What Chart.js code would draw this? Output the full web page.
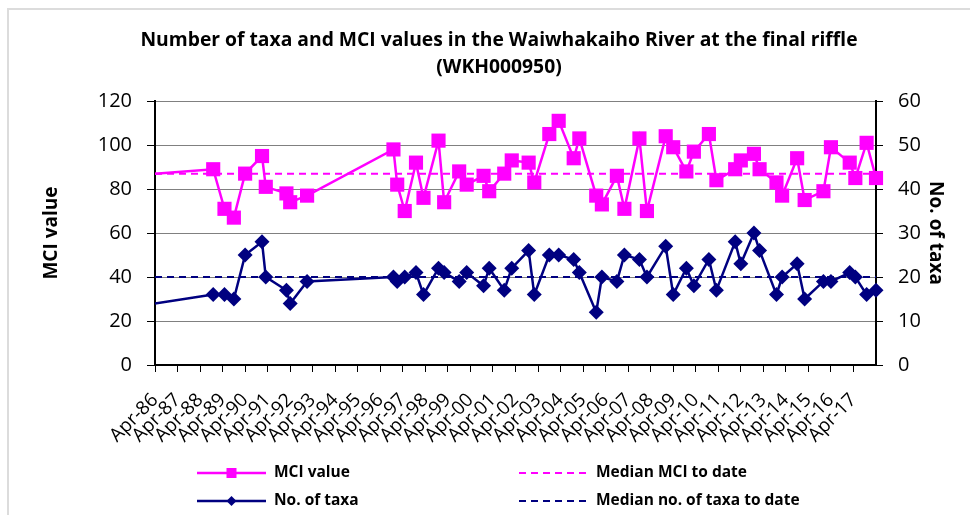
<!DOCTYPE html>
<html>
<head>
<meta charset="utf-8">
<title>Waiwhakaiho River - taxa and MCI</title>
<script src="https://cdn.jsdelivr.net/npm/chart.js@4.4.1/dist/chart.umd.min.js"></script>
<style>
  html, body { margin: 0; padding: 0; background: #fff; }
  #wrap { position: relative; width: 970px; height: 515px; overflow: hidden; }
  #frame { position: absolute; left: 7px; top: 8px; right: -10px; bottom: -10px;
           border-left: 2px solid #dcdcdc; border-top: 2px solid #dcdcdc; }
  canvas { position: absolute; left: 0; top: 0; }
</style>
</head>
<body>
<div id="wrap">
  <div id="frame"></div>
  <canvas id="chart" width="970" height="515"></canvas>
</div>
<script>
// sampling dates (year-month); the first one lies before the axis start and only feeds the lead-in line
const sampleDates = [
  '1985-01', '1988-11', '1989-05', '1989-10', '1990-04', '1991-01', '1991-03', '1992-02', '1992-04', '1993-01',
  '1996-11', '1997-01', '1997-05', '1997-11', '1998-03', '1998-11', '1999-02', '1999-10', '2000-02', '2000-11',
  '2001-02', '2001-10', '2002-02', '2002-11', '2003-02', '2003-10', '2004-03', '2004-11', '2005-02', '2005-11',
  '2006-02', '2006-10', '2007-02', '2007-10', '2008-02', '2008-12', '2009-04', '2009-11', '2010-03', '2010-11',
  '2011-03', '2012-01', '2012-04', '2012-11', '2013-02', '2013-11', '2014-02', '2014-10', '2015-02', '2015-12',
  '2016-04', '2017-02', '2017-05', '2017-11', '2018-04'
];

const mciValues = [
  86, 89, 71, 67, 87, 95, 81, 78, 74, 77,
  98, 82, 70, 92, 76, 102, 74, 88, 82, 86,
  79, 87, 93, 92, 83, 105, 111, 94, 103, 77,
  73, 86, 71, 103, 70, 104, 99, 88, 97, 105,
  84, 89, 93, 96, 89, 83, 77, 94, 75, 79,
  99, 92, 85, 101, 85
];

const taxaValues = [
  13, 16, 16, 15, 25, 28, 20, 17, 14, 19,
  20, 19, 20, 21, 16, 22, 21, 19, 21, 18,
  22, 17, 22, 26, 16, 25, 25, 24, 21, 12,
  20, 19, 25, 24, 20, 27, 16, 22, 18, 24,
  17, 28, 23, 30, 26, 16, 20, 23, 15, 19,
  19, 21, 20, 16, 17
];

const medianMci = 87;
const medianTaxa = 20;

const yearLabels = [
  'Apr-86', 'Apr-87', 'Apr-88', 'Apr-89', 'Apr-90', 'Apr-91', 'Apr-92', 'Apr-93',
  'Apr-94', 'Apr-95', 'Apr-96', 'Apr-97', 'Apr-98', 'Apr-99', 'Apr-00', 'Apr-01',
  'Apr-02', 'Apr-03', 'Apr-04', 'Apr-05', 'Apr-06', 'Apr-07', 'Apr-08', 'Apr-09',
  'Apr-10', 'Apr-11', 'Apr-12', 'Apr-13', 'Apr-14', 'Apr-15', 'Apr-16', 'Apr-17'
];

// x axis runs in years counted from April 1986
function yearsFromStart(date) {
  const [y, m] = date.split('-').map(Number);
  return y + (m - 1) / 12 - (1986 + 3 / 12);
}

const xEnd = yearLabels.length;
const mciPoints = sampleDates.map((d, i) => ({ x: yearsFromStart(d), y: mciValues[i] }));
const taxaPoints = sampleDates.map((d, i) => ({ x: yearsFromStart(d), y: taxaValues[i] }));

const MAGENTA = '#FF00FF';
const NAVY = '#000080';

// legend in a 2 x 2 grid under the plot, like the spreadsheet original
const gridLegend = {
  id: 'gridLegend',
  afterDraw(chart, args, opts) {
    const ctx = chart.ctx;
    ctx.save();
    opts.items.forEach(item => {
      const ds = chart.data.datasets[item.dataset];
      const x = opts.columns[item.col];
      const y = opts.rows[item.row];
      ctx.strokeStyle = ds.borderColor;
      ctx.lineWidth = ds.borderWidth;
      ctx.setLineDash(ds.borderDash || []);
      ctx.beginPath();
      ctx.moveTo(x, y);
      ctx.lineTo(x + opts.lineLength, y);
      ctx.stroke();
      ctx.setLineDash([]);

      const cx = x + opts.lineLength / 2;
      ctx.fillStyle = ds.borderColor;
      if (ds.pointStyle === 'rect') {
        ctx.fillRect(cx - 5, y - 5, 10, 10);
      } else if (ds.pointStyle === 'rectRot') {
        ctx.beginPath();
        ctx.moveTo(cx - 5, y);
        ctx.lineTo(cx, y - 5);
        ctx.lineTo(cx + 5, y);
        ctx.lineTo(cx, y + 5);
        ctx.closePath();
        ctx.fill();
      }

      ctx.font = opts.font;
      ctx.fillStyle = '#000';
      ctx.textBaseline = 'middle';
      ctx.textAlign = 'left';
      ctx.fillText(ds.label, x + opts.lineLength + 8, y);
    });
    ctx.restore();
  }
};

Chart.defaults.font.family = "'Open Sans', sans-serif";
Chart.defaults.color = '#000';

const clipBox = { left: 0, top: 12, right: 12, bottom: 0 };

new Chart(document.getElementById('chart'), {
  type: 'line',
  data: {
    datasets: [
      {
        label: 'MCI value',
        data: mciPoints,
        yAxisID: 'y',
        borderColor: MAGENTA,
        backgroundColor: MAGENTA,
        borderWidth: 2.5,
        pointStyle: 'rect',
        pointRadius: 10,
        pointBorderWidth: 0,
        tension: 0,
        order: 1,
        clip: clipBox
      },
      {
        label: 'Median MCI to date',
        data: [{ x: 0, y: medianMci }, { x: xEnd, y: medianMci }],
        yAxisID: 'y',
        borderColor: MAGENTA,
        borderWidth: 2,
        borderDash: [7, 5],
        pointRadius: 0,
        order: 3
      },
      {
        label: 'No. of taxa',
        data: taxaPoints,
        yAxisID: 'y1',
        borderColor: NAVY,
        backgroundColor: NAVY,
        borderWidth: 2.5,
        pointStyle: 'rectRot',
        pointRadius: 7.5,
        pointBorderWidth: 0,
        tension: 0,
        order: 2,
        clip: clipBox
      },
      {
        label: 'Median no. of taxa to date',
        data: [{ x: 0, y: medianTaxa }, { x: xEnd, y: medianTaxa }],
        yAxisID: 'y1',
        borderColor: NAVY,
        borderWidth: 2,
        borderDash: [7, 5],
        pointRadius: 0,
        order: 4
      }
    ]
  },
  options: {
    responsive: false,
    animation: false,
    // left padding is wider so the title centres where the original has it
    layout: { padding: { left: 38, right: 10, top: 10, bottom: 70 } },
    scales: {
      x: {
        type: 'linear',
        min: 0,
        max: xEnd,
        afterFit: scale => { scale.height = 80; },
        grid: {
          drawOnChartArea: false,
          tickLength: 7,
          tickColor: ctx => (ctx.tick && ctx.tick.value === xEnd ? 'rgba(0,0,0,0)' : '#000')
        },
        border: { color: '#000', width: 2 },
        ticks: {
          stepSize: 1,
          autoSkip: false,
          minRotation: 45,
          maxRotation: 45,
          padding: 17,
          font: { size: 19 },
          callback: v => yearLabels[v] || ''
        }
      },
      y: {
        position: 'left',
        min: 0,
        max: 120,
        afterFit: scale => { scale.width = 117; },
        grid: { color: '#808080', lineWidth: 1, tickLength: 8, tickColor: '#000' },
        border: { color: '#000', width: 2 },
        ticks: { stepSize: 20, padding: 15, font: { size: 20 } },
        title: {
          display: true,
          text: 'MCI value',
          font: { size: 19, weight: 'bold' },
          padding: { top: 2, bottom: 0 }
        }
      },
      y1: {
        position: 'right',
        min: 0,
        max: 60,
        afterFit: scale => { scale.width = 84; },
        grid: { drawOnChartArea: false, tickLength: 7, tickColor: '#000' },
        border: { color: '#000', width: 2 },
        ticks: { stepSize: 10, padding: 15, font: { size: 20 } },
        title: {
          display: true,
          text: 'No. of taxa',
          font: { size: 19, weight: 'bold' },
          padding: { top: 13, bottom: 0 }
        }
      }
    },
    plugins: {
      legend: { display: false },
      tooltip: { enabled: false },
      title: {
        display: true,
        text: [
          'Number of taxa and MCI values in the Waiwhakaiho River at the final riffle',
          '(WKH000950)'
        ],
        color: '#000',
        font: { size: 19.3, weight: 'bold', lineHeight: 1.4 },
        padding: { top: 17, bottom: 20 }
      },
      gridLegend: {
        columns: [197, 519],
        rows: [473, 501],
        lineLength: 69,
        font: "bold 15.5px 'Open Sans', sans-serif",
        items: [
          { dataset: 0, col: 0, row: 0 },
          { dataset: 1, col: 1, row: 0 },
          { dataset: 2, col: 0, row: 1 },
          { dataset: 3, col: 1, row: 1 }
        ]
      }
    }
  },
  plugins: [gridLegend]
});
</script>
</body>
</html>
